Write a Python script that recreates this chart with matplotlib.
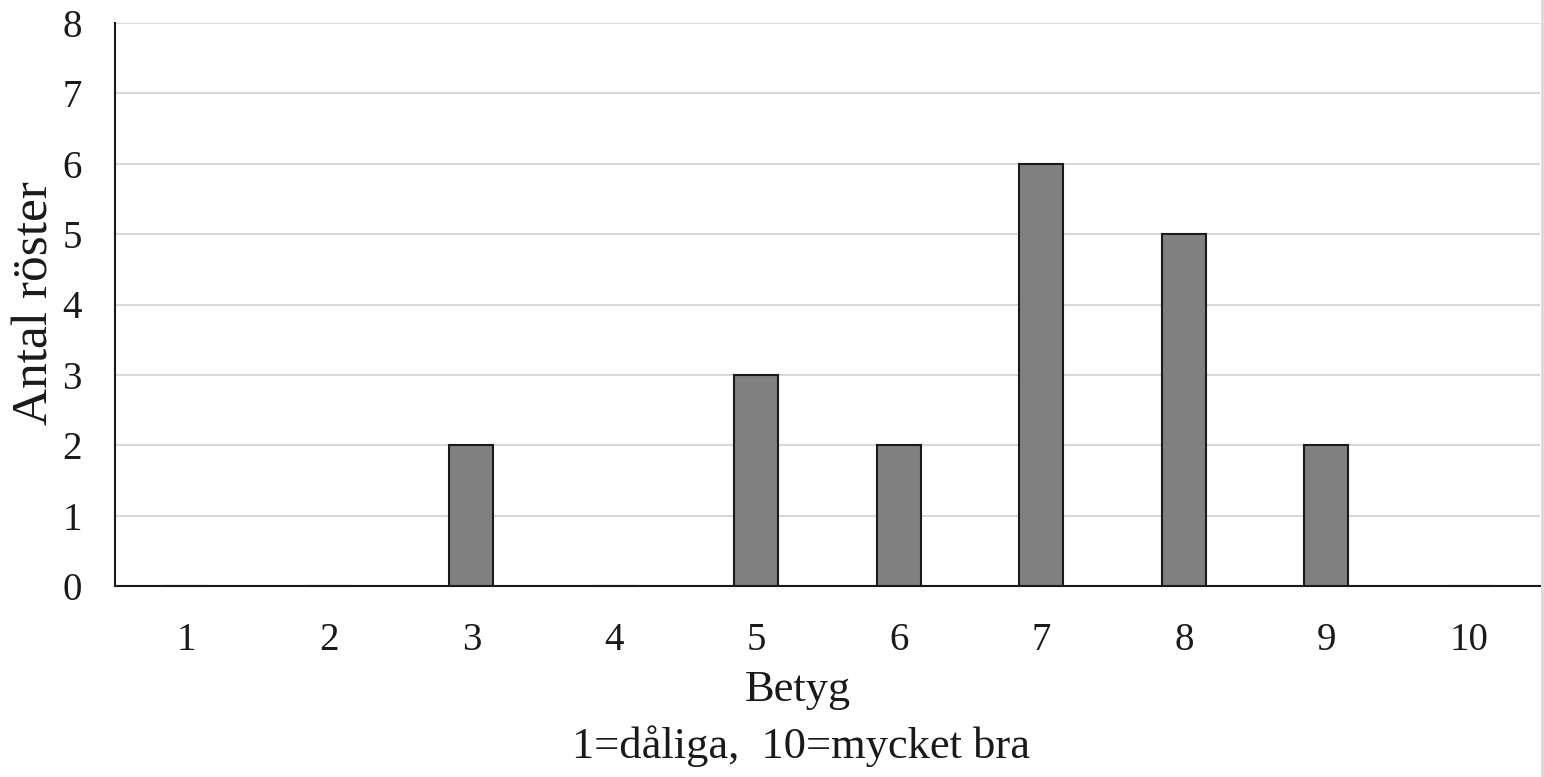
import matplotlib
matplotlib.use("Agg")
import matplotlib.pyplot as plt
from matplotlib.lines import Line2D

categories = ["1", "2", "3", "4", "5", "6", "7", "8", "9", "10"]
votes = [0, 0, 2, 0, 3, 2, 6, 5, 2, 0]
yticks = [0, 1, 2, 3, 4, 5, 6, 7, 8]

plt.rcParams['font.family'] = ['Liberation Serif', 'DejaVu Serif']

W, H = 1544, 777
fig = plt.figure(figsize=(W / 100, H / 100), dpi=100)
ax = fig.add_axes([115 / W, 1 - 586 / H, (1540 - 115) / W, (586 - 23) / H])

x = list(range(len(categories)))
ax.bar(x, votes, width=0.31, color='#808080', edgecolor='#1a1a1a', linewidth=1.5, zorder=3)

ax.set_xlim(-0.5, len(categories) - 0.5)
ax.set_ylim(0, 8)
ax.set_yticks(yticks)
ax.set_yticklabels([str(v) for v in yticks])
ax.set_xticks(x)
ax.set_xticklabels(categories)
ax.tick_params(axis='both', length=0, labelsize=28, colors='#1a1a1a')
ax.tick_params(axis='y', pad=24)
ax.tick_params(axis='x', pad=26)

ax.grid(axis='y', color='#d9d9d9', linewidth=1.5, zorder=0)
for s in ['top', 'right']:
    ax.spines[s].set_visible(False)
ax.spines['left'].set_color('#1a1a1a')
ax.spines['bottom'].set_color('#1a1a1a')
ax.spines['left'].set_linewidth(1.5)
ax.spines['bottom'].set_linewidth(1.5)

fig.text(798 / W, 1 - 690 / H, "Betyg", ha='center', va='center', fontsize=32, color='#1a1a1a')
fig.text(801 / W, 1 - 746 / H, "1=dåliga,  10=mycket bra", ha='center', va='center', fontsize=32, color='#1a1a1a')
fig.text(35 / W, 1 - 303 / H, "Antal röster", ha='center', va='center', rotation=90, fontsize=37, color='#1a1a1a')

fig.add_artist(Line2D([1541.5 / W, 1541.5 / W], [0, 1], transform=fig.transFigure, color='#d9d9d9', linewidth=2))

fig.savefig("out.png", dpi=100)
